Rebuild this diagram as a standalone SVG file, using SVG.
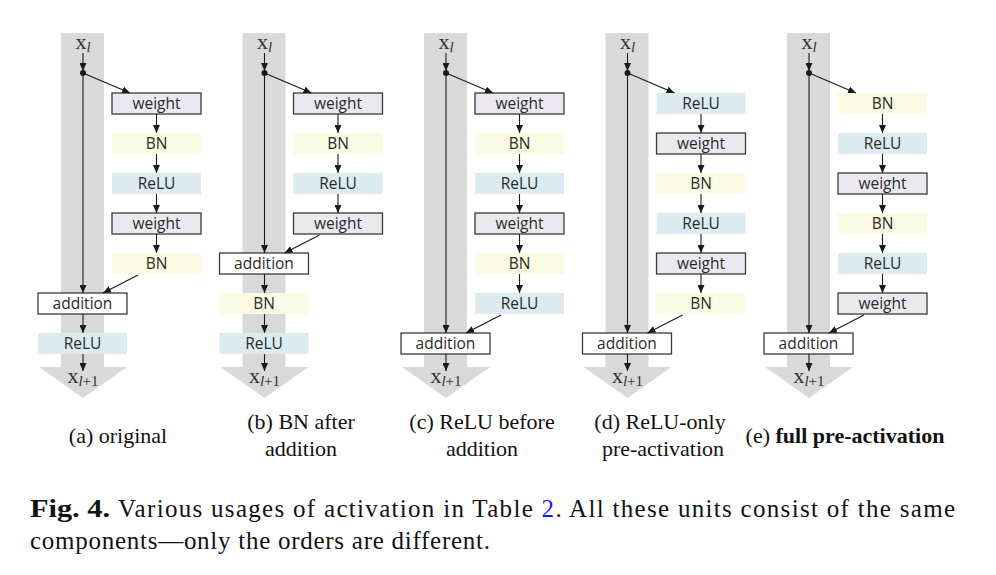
<svg xmlns="http://www.w3.org/2000/svg" width="996" height="575" viewBox="0 0 996 575">
<defs>
<marker id="ah" markerUnits="userSpaceOnUse" markerWidth="8" markerHeight="7" refX="8" refY="3.5" orient="auto">
<path d="M0,0 L8,3.5 L0,7 z" fill="#1a1a1a"/>
</marker>
<style>
.bar{fill:#d9d9d9}
.w{fill:#ebe8f0;stroke:#3a3a3a;stroke-width:1.3}
.add{fill:#ffffff;stroke:#3a3a3a;stroke-width:1.3}
.bn{fill:#fbfae3}
.relu{fill:#dbebf1}
.lbl{font-family:"Open Sans","Liberation Sans",sans-serif;font-size:15.5px;fill:#2a2a2a;text-anchor:middle}
.var{font-family:"Liberation Serif",serif;font-size:22px;fill:#333;text-anchor:middle}
.cap{font-family:"Liberation Serif",serif;font-size:22px;fill:#111;text-anchor:middle}
.fig{font-family:"Liberation Serif",serif;font-size:25px;fill:#111}
.c{fill:none;stroke:#1a1a1a;stroke-width:1.1;marker-end:url(#ah)}
</style>
</defs>
<rect width="996" height="575" fill="#ffffff"/>

<!-- backgrounds: gray identity arrows -->
<g id="bars">
<rect class="bar" x="61" y="33" width="43" height="334"/><polygon class="bar" points="39,367 127,367 83,398"/>
<rect class="bar" x="242.5" y="33" width="43" height="334"/><polygon class="bar" points="220.5,367 308.5,367 264.5,398"/>
<rect class="bar" x="424" y="33" width="43" height="334"/><polygon class="bar" points="402,367 490,367 446,398"/>
<rect class="bar" x="605.5" y="33" width="43" height="334"/><polygon class="bar" points="583.5,367 671.5,367 627.5,398"/>
<rect class="bar" x="787" y="33" width="43" height="334"/><polygon class="bar" points="765,367 853,367 809,398"/>
</g>

<!-- column a -->
<g id="a-xl"><text class="var" x="83" y="49">x<tspan font-style="italic" font-size="15" dy="3">l</tspan></text></g>
<g id="a-weight1"><rect class="w" x="112" y="93" width="89" height="21"/><text class="lbl" x="156.5" y="109">weight</text></g>
<g id="a-bn1"><rect class="bn" x="112" y="133" width="89" height="21"/><text class="lbl" x="156.5" y="149">BN</text></g>
<g id="a-relu1"><rect class="relu" x="112" y="173" width="89" height="21"/><text class="lbl" x="156.5" y="189">ReLU</text></g>
<g id="a-weight2"><rect class="w" x="112" y="213" width="89" height="21"/><text class="lbl" x="156.5" y="229">weight</text></g>
<g id="a-bn2"><rect class="bn" x="112" y="253" width="89" height="21"/><text class="lbl" x="156.5" y="269">BN</text></g>
<g id="a-addition"><rect class="add" x="38" y="293" width="89" height="21"/><text class="lbl" x="82.5" y="309">addition</text></g>
<g id="a-relu2"><rect class="relu" x="38" y="333" width="89" height="21"/><text class="lbl" x="82.5" y="349">ReLU</text></g>
<g id="a-xl1"><text class="var" x="83" y="383">x<tspan font-style="italic" font-size="15" dy="3">l</tspan><tspan font-size="15">+1</tspan></text></g>

<!-- column b -->
<g id="b-xl"><text class="var" x="264.5" y="49">x<tspan font-style="italic" font-size="15" dy="3">l</tspan></text></g>
<g id="b-weight1"><rect class="w" x="293.5" y="93" width="89" height="21"/><text class="lbl" x="338" y="109">weight</text></g>
<g id="b-bn1"><rect class="bn" x="293.5" y="133" width="89" height="21"/><text class="lbl" x="338" y="149">BN</text></g>
<g id="b-relu1"><rect class="relu" x="293.5" y="173" width="89" height="21"/><text class="lbl" x="338" y="189">ReLU</text></g>
<g id="b-weight2"><rect class="w" x="293.5" y="213" width="89" height="21"/><text class="lbl" x="338" y="229">weight</text></g>
<g id="b-addition"><rect class="add" x="219.5" y="253" width="89" height="21"/><text class="lbl" x="264" y="269">addition</text></g>
<g id="b-bn2"><rect class="bn" x="219.5" y="293" width="89" height="21"/><text class="lbl" x="264" y="309">BN</text></g>
<g id="b-relu2"><rect class="relu" x="219.5" y="333" width="89" height="21"/><text class="lbl" x="264" y="349">ReLU</text></g>
<g id="b-xl1"><text class="var" x="264.5" y="383">x<tspan font-style="italic" font-size="15" dy="3">l</tspan><tspan font-size="15">+1</tspan></text></g>

<!-- column c -->
<g id="c-xl"><text class="var" x="446" y="49">x<tspan font-style="italic" font-size="15" dy="3">l</tspan></text></g>
<g id="c-weight1"><rect class="w" x="475" y="93" width="89" height="21"/><text class="lbl" x="519.5" y="109">weight</text></g>
<g id="c-bn1"><rect class="bn" x="475" y="133" width="89" height="21"/><text class="lbl" x="519.5" y="149">BN</text></g>
<g id="c-relu1"><rect class="relu" x="475" y="173" width="89" height="21"/><text class="lbl" x="519.5" y="189">ReLU</text></g>
<g id="c-weight2"><rect class="w" x="475" y="213" width="89" height="21"/><text class="lbl" x="519.5" y="229">weight</text></g>
<g id="c-bn2"><rect class="bn" x="475" y="253" width="89" height="21"/><text class="lbl" x="519.5" y="269">BN</text></g>
<g id="c-relu2"><rect class="relu" x="475" y="293" width="89" height="21"/><text class="lbl" x="519.5" y="309">ReLU</text></g>
<g id="c-addition"><rect class="add" x="401" y="333" width="89" height="21"/><text class="lbl" x="445.5" y="349">addition</text></g>
<g id="c-xl1"><text class="var" x="446" y="383">x<tspan font-style="italic" font-size="15" dy="3">l</tspan><tspan font-size="15">+1</tspan></text></g>

<!-- column d -->
<g id="d-xl"><text class="var" x="627.5" y="49">x<tspan font-style="italic" font-size="15" dy="3">l</tspan></text></g>
<g id="d-relu1"><rect class="relu" x="656.5" y="93" width="89" height="21"/><text class="lbl" x="701" y="109">ReLU</text></g>
<g id="d-weight1"><rect class="w" x="656.5" y="133" width="89" height="21"/><text class="lbl" x="701" y="149">weight</text></g>
<g id="d-bn1"><rect class="bn" x="656.5" y="173" width="89" height="21"/><text class="lbl" x="701" y="189">BN</text></g>
<g id="d-relu2"><rect class="relu" x="656.5" y="213" width="89" height="21"/><text class="lbl" x="701" y="229">ReLU</text></g>
<g id="d-weight2"><rect class="w" x="656.5" y="253" width="89" height="21"/><text class="lbl" x="701" y="269">weight</text></g>
<g id="d-bn2"><rect class="bn" x="656.5" y="293" width="89" height="21"/><text class="lbl" x="701" y="309">BN</text></g>
<g id="d-addition"><rect class="add" x="582.5" y="333" width="89" height="21"/><text class="lbl" x="627" y="349">addition</text></g>
<g id="d-xl1"><text class="var" x="627.5" y="383">x<tspan font-style="italic" font-size="15" dy="3">l</tspan><tspan font-size="15">+1</tspan></text></g>

<!-- column e -->
<g id="e-xl"><text class="var" x="809" y="49">x<tspan font-style="italic" font-size="15" dy="3">l</tspan></text></g>
<g id="e-bn1"><rect class="bn" x="838" y="93" width="89" height="21"/><text class="lbl" x="882.5" y="109">BN</text></g>
<g id="e-relu1"><rect class="relu" x="838" y="133" width="89" height="21"/><text class="lbl" x="882.5" y="149">ReLU</text></g>
<g id="e-weight1"><rect class="w" x="838" y="173" width="89" height="21"/><text class="lbl" x="882.5" y="189">weight</text></g>
<g id="e-bn2"><rect class="bn" x="838" y="213" width="89" height="21"/><text class="lbl" x="882.5" y="229">BN</text></g>
<g id="e-relu2"><rect class="relu" x="838" y="253" width="89" height="21"/><text class="lbl" x="882.5" y="269">ReLU</text></g>
<g id="e-weight2"><rect class="w" x="838" y="293" width="89" height="21"/><text class="lbl" x="882.5" y="309">weight</text></g>
<g id="e-addition"><rect class="add" x="764" y="333" width="89" height="21"/><text class="lbl" x="808.5" y="349">addition</text></g>
<g id="e-xl1"><text class="var" x="809" y="383">x<tspan font-style="italic" font-size="15" dy="3">l</tspan><tspan font-size="15">+1</tspan></text></g>

<!-- connectors -->
<g id="connectors">
<!-- a -->
<path class="c" d="M83,53 L83,71"/><circle cx="83" cy="73" r="3" fill="#1a1a1a"/>
<path class="c" d="M83,73 L83,293"/>
<path class="c" d="M83,73 L130,93"/>
<path class="c" d="M156.5,114 L156.5,133"/><path class="c" d="M156.5,154 L156.5,173"/><path class="c" d="M156.5,194 L156.5,213"/><path class="c" d="M156.5,234 L156.5,253"/>
<path class="c" d="M138,275 L103,293"/>
<path class="c" d="M83,314 L83,333"/><path class="c" d="M83,354 L83,371"/>
<!-- b -->
<path class="c" d="M264.5,53 L264.5,71"/><circle cx="264.5" cy="73" r="3" fill="#1a1a1a"/>
<path class="c" d="M264.5,73 L264.5,253"/>
<path class="c" d="M264.5,73 L311.5,93"/>
<path class="c" d="M338,114 L338,133"/><path class="c" d="M338,154 L338,173"/><path class="c" d="M338,194 L338,213"/>
<path class="c" d="M319.5,235 L284.5,253"/>
<path class="c" d="M264.5,274 L264.5,293"/><path class="c" d="M264.5,314 L264.5,333"/><path class="c" d="M264.5,354 L264.5,371"/>
<!-- c -->
<path class="c" d="M446,53 L446,71"/><circle cx="446" cy="73" r="3" fill="#1a1a1a"/>
<path class="c" d="M446,73 L446,333"/>
<path class="c" d="M446,73 L493,93"/>
<path class="c" d="M519.5,114 L519.5,133"/><path class="c" d="M519.5,154 L519.5,173"/><path class="c" d="M519.5,194 L519.5,213"/><path class="c" d="M519.5,234 L519.5,253"/><path class="c" d="M519.5,274 L519.5,293"/>
<path class="c" d="M501,315 L466,333"/>
<path class="c" d="M446,354 L446,371"/>
<!-- d -->
<path class="c" d="M627.5,53 L627.5,71"/><circle cx="627.5" cy="73" r="3" fill="#1a1a1a"/>
<path class="c" d="M627.5,73 L627.5,333"/>
<path class="c" d="M627.5,73 L674.5,93"/>
<path class="c" d="M701,114 L701,133"/><path class="c" d="M701,154 L701,173"/><path class="c" d="M701,194 L701,213"/><path class="c" d="M701,234 L701,253"/><path class="c" d="M701,274 L701,293"/>
<path class="c" d="M682.5,315 L647.5,333"/>
<path class="c" d="M627.5,354 L627.5,371"/>
<!-- e -->
<path class="c" d="M809,53 L809,71"/><circle cx="809" cy="73" r="3" fill="#1a1a1a"/>
<path class="c" d="M809,73 L809,333"/>
<path class="c" d="M809,73 L856,93"/>
<path class="c" d="M882.5,114 L882.5,133"/><path class="c" d="M882.5,154 L882.5,173"/><path class="c" d="M882.5,194 L882.5,213"/><path class="c" d="M882.5,234 L882.5,253"/><path class="c" d="M882.5,274 L882.5,293"/>
<path class="c" d="M864,315 L829,333"/>
<path class="c" d="M809,354 L809,371"/>
</g>

<!-- sub-captions -->
<g id="captions">
<text class="cap" x="118" y="443">(a) original</text>
<text class="cap" x="301" y="429">(b) BN after</text>
<text class="cap" x="301" y="456">addition</text>
<text class="cap" x="482" y="429">(c) ReLU before</text>
<text class="cap" x="482" y="456">addition</text>
<text class="cap" x="660" y="429">(d) ReLU-only</text>
<text class="cap" x="663" y="456">pre-activation</text>
<text class="cap" x="845" y="443">(e) <tspan font-weight="bold">full pre-activation</tspan></text>
</g>

<!-- figure caption -->
<g id="figcaption">
<text class="fig" x="30" y="517" font-weight="bold" font-size="26" textLength="80" lengthAdjust="spacingAndGlyphs">Fig. 4.</text>
<text class="fig" x="118" y="517" textLength="837" lengthAdjust="spacing">Various usages of activation in Table <tspan fill="#1a1aff">2</tspan>. All these units consist of the same</text>
<text class="fig" x="30" y="549" textLength="460" lengthAdjust="spacing">components—only the orders are different.</text>
</g>
</svg>
